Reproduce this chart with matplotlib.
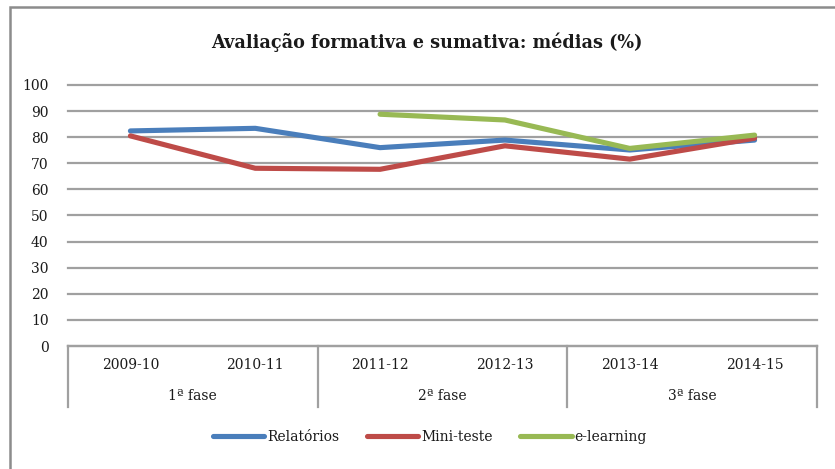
import matplotlib
matplotlib.use("Agg")
import matplotlib.pyplot as plt
import matplotlib.transforms as mtransforms
from matplotlib.patches import Rectangle

years = ["2009-10", "2010-11", "2011-12", "2012-13", "2013-14", "2014-15"]
phases = ["1ª fase", "2ª fase", "3ª fase"]
relatorios = [82.4, 83.4, 76.0, 78.9, 75.1, 78.9]
mini_teste = [80.5, 68.1, 67.7, 76.7, 71.6, 79.6]
elearning = [None, None, 88.8, 86.6, 75.7, 80.8]
yticks = [0, 10, 20, 30, 40, 50, 60, 70, 80, 90, 100]

FONT = "DejaVu Serif"
plt.rcParams['font.family'] = FONT

W, H = 835, 469
fig = plt.figure(figsize=(W / 100, H / 100), dpi=100)
fig.patch.set_facecolor("white")

# outer chart border (partially cropped)
fig.add_artist(Rectangle((9.5 / W, -0.05), 1.2, (H - 7.5) / H + 0.05,
                         transform=fig.transFigure, fill=False,
                         edgecolor="#8c8c8c", linewidth=1.8))

left, right, top, bottom = 68, 817, 85, 346
ax = fig.add_axes([left / W, 1 - bottom / H, (right - left) / W, (bottom - top) / H])

x = list(range(len(years)))
ax.plot(x, relatorios, color="#4a7ebb", lw=3.7, label="Relatórios", solid_capstyle="round", zorder=3)
ax.plot(x, mini_teste, color="#be4b48", lw=3.7, label="Mini-teste", solid_capstyle="round", zorder=3)
xe = [i for i, v in zip(x, elearning) if v is not None]
ye = [v for v in elearning if v is not None]
ax.plot(xe, ye, color="#98b954", lw=3.7, label="e-learning", solid_capstyle="round", zorder=3)

ax.set_xlim(-0.5, len(years) - 0.5)
ax.set_ylim(0, 100)
ax.set_yticks(yticks)
ax.set_yticklabels([str(v) for v in yticks], fontsize=10, color="#1a1a1a")
ax.tick_params(axis="y", length=0, pad=14)
ax.set_xticks([])
for s in ["left", "right", "top"]:
    ax.spines[s].set_visible(False)
ax.spines["bottom"].set_color("#a0a0a0")
ax.spines["bottom"].set_linewidth(1.6)
ax.yaxis.grid(True, color="#a0a0a0", linewidth=1.6)
for gl in ax.get_ygridlines():
    gl.set_clip_on(False)
ax.set_axisbelow(True)

trans = mtransforms.blended_transform_factory(ax.transData, ax.transAxes)
hpx = bottom - top
for xd in [-0.5, 1.5, 3.5, 5.5]:
    ax.plot([xd, xd], [0, -(407 - bottom) / hpx], transform=trans, color="#a0a0a0",
            lw=1.6, clip_on=False)
for i, yl in enumerate(years):
    ax.text(i, -(365 - bottom) / hpx, yl, transform=trans, ha="center", va="center",
            fontsize=10, color="#1a1a1a")
for j, ph in enumerate(phases):
    ax.text(2 * j + 0.5, -(396 - bottom) / hpx, ph, transform=trans, ha="center", va="center",
            fontsize=10, color="#1a1a1a")

fig.text(427 / W, 1 - 42 / H, "Avaliação formativa e sumativa: médias (%)",
         ha="center", va="center", fontsize=12.7, fontweight="bold", color="#1a1a1a")

leg = fig.legend(loc="center", bbox_to_anchor=(430 / W, 1 - 437 / H), ncol=3, frameon=False,
                 fontsize=10, handlelength=3.7, handletextpad=0.2, columnspacing=2.0)
for t in leg.get_texts():
    t.set_color("#1a1a1a")

fig.savefig("out.png", dpi=100, facecolor="white")
